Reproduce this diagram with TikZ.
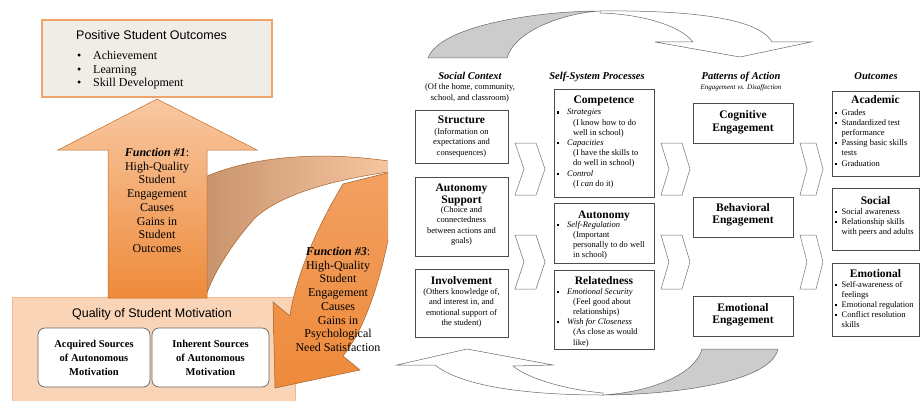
\documentclass[tikz,border=0pt]{standalone}
\usepackage{fontspec}
\setmainfont{Liberation Serif}
\newfontfamily\arialf{Liberation Sans}
\usetikzlibrary{shadows}
\definecolor{beige}{HTML}{EFEDE6}
\definecolor{oborder}{HTML}{F0A46A}
\definecolor{olight}{HTML}{F8C8A2}
\definecolor{odark}{HTML}{EE8A3A}
\definecolor{omid}{HTML}{F2A062}
\definecolor{mfill}{HTML}{F9D4B6}
\definecolor{mborder}{HTML}{F3B690}
\definecolor{brownish}{HTML}{C8946E}
\definecolor{ggray}{HTML}{CCCCCC}
\newcommand\bul{\makebox[10pt][l]{\raisebox{1.3pt}{\rule{2.2pt}{2.2pt}}}}
\newcommand\bulb{\makebox[6.5pt][l]{\raisebox{1.3pt}{\rule{2.2pt}{2.2pt}}}}
\newcommand\ind{\hspace*{16pt}}
\newcommand\indb{\hspace*{6.5pt}}
\begin{document}
\begin{tikzpicture}[x=1pt,y=-1pt,
  rbox/.style={draw=black!70, line width=0.6pt, fill=white, inner sep=0},
  chev/.style={draw=black!55, line width=0.5pt, fill=white},
  garrow/.style={draw=black!60, line width=0.5pt},
  ttl/.style={font=\fontsize{11.5}{12.5}\selectfont\bfseries, anchor=base, inner sep=0},
  body/.style={font=\fontsize{8.5}{10.6}\selectfont, align=center, anchor=north, inner sep=0},
  lbody/.style={font=\fontsize{8.5}{10.2}\selectfont, align=left, anchor=north west, inner sep=0},
  hdr/.style={font=\fontsize{10.5}{12}\selectfont\bfseries\itshape, anchor=base, inner sep=0},
  ftext/.style={font=\fontsize{12}{13.7}\selectfont, align=center, anchor=north, inner sep=0},
  srcbox/.style={draw=black!60, line width=0.7pt, fill=white, rounded corners=7pt, inner sep=0},
  srctext/.style={font=\fontsize{10.5}{14}\selectfont\bfseries, align=center, inner sep=0},
]
\useasboundingbox (0,0) rectangle (920,401);
\fill[white] (0,0) rectangle (920,401);

% ================= LEFT PANEL =================
\begin{scope}
\clip (0,0) rectangle (388,401);
% motivation box
\node (mot) [draw=mborder, fill=mfill, line width=1pt, minimum width=283pt, minimum height=110pt, inner sep=0] at (153.5,352) {};
\node[font=\arialf\fontsize{12.5}{14}\selectfont, anchor=base, inner sep=0] (mottitle) at (152,317.5) {Quality of Student Motivation};
\node (acq) [srcbox, minimum width=112pt, minimum height=59pt] at (94,357.5) {};
\node (inh) [srcbox, minimum width=117pt, minimum height=59pt] at (210.5,357.5) {};
\node[srctext] at (acq.center) {Acquired Sources\\of Autonomous\\Motivation};
\node[srctext] at (inh.center) {Inherent Sources\\of Autonomous\\Motivation};

% ascending ribbon of function 3
\shade[left color=brownish, right color=olight, draw=odark!70!black, line width=0.5pt]
  (205,177) .. controls (250,157) and (320,150) .. (395,162) -- (395,171)
  .. controls (330,180) and (280,195) .. (255,218)
  .. controls (235,240) and (215,270) .. (207,293) -- cycle;
% descending ribbon + head
\shade[top color=omid, bottom color=odark, draw=odark!70!black, line width=0.5pt]
  (343,184) -- (395,171) -- (395,200) .. controls (388,250) and (372,320) .. (343,356)
  -- (360,370) -- (275,388) -- (273,302) -- (290,316)
  .. controls (294,285) and (312,235) .. (343,184) -- cycle;

% function 1 arrow
\shade[top color=olight, bottom color=odark, draw=odark!80!black, line width=0.5pt]
  (108,298) -- (108,150) -- (58,150) -- (157,99) -- (257,150) -- (207,150) -- (207,298) -- cycle;
\node[ftext] (f1) at (157,148) {\textbf{\textit{Function \#1}}:\\High-Quality\\Student\\Engagement\\Causes\\Gains in\\Student\\Outcomes};
\node[ftext] (f3) at (338,247) {\textbf{\textit{Function \#3}}:\\High-Quality\\Student\\Engagement\\Causes\\Gains in\\Psychological\\Need Satisfaction};

% outcomes box
\node (pso) [draw=oborder, fill=beige, line width=1.2pt, minimum width=230pt, minimum height=77pt, inner sep=0,
   drop shadow={shadow xshift=1pt, shadow yshift=-1.5pt, fill=black!35}] at (157,58.5) {};
\node[font=\arialf\fontsize{12.5}{14}\selectfont, anchor=base west, inner sep=0] at (76,39.5) {Positive Student Outcomes};
\foreach \t/\yy in {Achievement/60, Learning/73.5, Skill Development/87}{
  \node[font=\fontsize{12}{13.5}\selectfont, anchor=base west, inner sep=0] at (77,\yy) {\textbullet};
  \node[font=\fontsize{12}{13.5}\selectfont, anchor=base west, inner sep=0] at (93,\yy) {\t};
}
\end{scope}

% ================= RIGHT PANEL =================
% top curved arrow
\filldraw[garrow, fill=ggray] (428,58) .. controls (440,25) and (540,11) .. (600,11)
  .. controls (565,13) and (515,30) .. (507,58) -- cycle;
\filldraw[garrow, fill=white] (600,11) .. controls (700,10) and (760,20) .. (772,42)
  -- (811,42) -- (740,57) -- (655,42) -- (693,42)
  .. controls (680,25) and (640,14) .. (600,13) -- cycle;
% bottom curved arrow
\filldraw[garrow, fill=ggray] (702,349) -- (778,349) .. controls (770,385) and (660,395) .. (603,395)
  .. controls (650,392) and (695,375) .. (702,349) -- cycle;
\filldraw[garrow, fill=white] (603,395) .. controls (520,395) and (460,385) .. (435,365)
  -- (397,365) -- (467,349) -- (553,365) -- (513,366)
  .. controls (530,380) and (570,390) .. (603,393) -- cycle;

% headers
\node[hdr] (h1) at (470,80) {Social Context};
\node[body, font=\fontsize{8.5}{10.4}\selectfont] at (470,83.5) {(Of the home, community,\\school, and classroom)};
\node[hdr] (h2) at (597,80) {Self-System Processes};
\node[hdr] (h3) at (741,80) {Patterns of Action};
\node[font=\fontsize{7}{9}\selectfont\itshape, anchor=base, inner sep=0] at (741,89.5) {Engagement vs. Disaffection};
\node[hdr] (h4) at (876,80) {Outcomes};

% chevrons
\foreach \xa/\w/\d in {515/30/9, 661/29/8, 800/23/7}{
  \foreach \ya/\yb in {143/195, 235/289}{
    \draw[chev] (\xa,\ya) -- ({\xa+\w-\d},\ya) -- ({\xa+\w},{(\ya+\yb)/2}) -- ({\xa+\w-\d},\yb)
      -- (\xa,\yb) -- ({\xa+\d},{(\ya+\yb)/2}) -- cycle;
  }
}

% column 1
\node (struct) [rbox, minimum width=93pt, minimum height=53pt] at (461.5,136.5) {};
\node[ttl] at (461.5,124) {Structure};
\node[body] at (461.5,128) {(Information on\\expectations and\\consequences)};
\node (autsup) [rbox, minimum width=93pt, minimum height=79pt] at (461.5,216.5) {};
\node[ttl] at (461.5,191) {Autonomy};
\node[ttl] at (461.5,203) {Support};
\node[body] at (461.5,206) {(Choice and\\connectedness\\between actions and\\goals)};
\node (invol) [rbox, minimum width=93pt, minimum height=68pt] at (461.5,303) {};
\node[ttl] at (461.5,284) {Involvement};
\node[body] at (461.5,288) {(Others knowledge of,\\and interest in, and\\emotional support of\\the student)};

% column 2
\node (comp) [rbox, minimum width=100pt, minimum height=108pt] at (604,143) {};
\node[ttl] at (604,104) {Competence};
\node[lbody] at (557,109) {\bul\textit{Strategies}\\\ind(I know how to do\\\ind well in school)\\\bul\textit{Capacities}\\\ind(I have the skills to\\\ind do well in school)\\\bul\textit{Control}\\\ind(I \textit{can} do it)};
\node (auton) [rbox, minimum width=100pt, minimum height=60pt] at (604,233) {};
\node[ttl] at (604,218) {Autonomy};
\node[lbody] at (557,221) {\bul\textit{Self-Regulation}\\\ind(Important\\\ind personally to do well\\\ind in school)};
\node (relat) [rbox, minimum width=100pt, minimum height=79pt] at (604,309.5) {};
\node[ttl] at (604,284) {Relatedness};
\node[lbody] at (557,288) {\bul\textit{Emotional Security}\\\ind(Feel good about\\\ind relationships)\\\bul\textit{Wish for Closeness}\\\ind(As close as would\\\ind like)};

% column 3
\node (cog) [rbox, minimum width=100pt, minimum height=40pt] at (743,123) {};
\node[ttl] at (743,119) {Cognitive};
\node[ttl] at (743,131.5) {Engagement};
\node (beh) [rbox, minimum width=100pt, minimum height=40pt] at (743,217) {};
\node[ttl] at (743,211) {Behavioral};
\node[ttl] at (743,223.5) {Engagement};
\node (emo) [rbox, minimum width=100pt, minimum height=40pt] at (743,316) {};
\node[ttl] at (743,311) {Emotional};
\node[ttl] at (743,323.5) {Engagement};

% column 4
\node (acad) [rbox, minimum width=87pt, minimum height=85pt] at (875.5,133.5) {};
\node[ttl] at (875.5,104) {Academic};
\node[lbody] at (835,109) {\bulb Grades\\\bulb Standardized test\\\indb performance\\\bulb Passing basic skills\\\indb tests\\\bulb Graduation};
\node (soc) [rbox, minimum width=87pt, minimum height=62pt] at (875.5,219) {};
\node[ttl] at (875.5,204) {Social};
\node[lbody] at (835,208) {\bulb Social awareness\\\bulb Relationship skills\\\indb with peers and adults};
\node (emot) [rbox, minimum width=87pt, minimum height=73pt] at (875.5,299.5) {};
\node[ttl] at (875.5,277) {Emotional};
\node[lbody] at (835,281) {\bulb Self-awareness of\\\indb feelings\\\bulb Emotional regulation\\\bulb Conflict resolution\\\indb skills};
\end{tikzpicture}
\end{document}
